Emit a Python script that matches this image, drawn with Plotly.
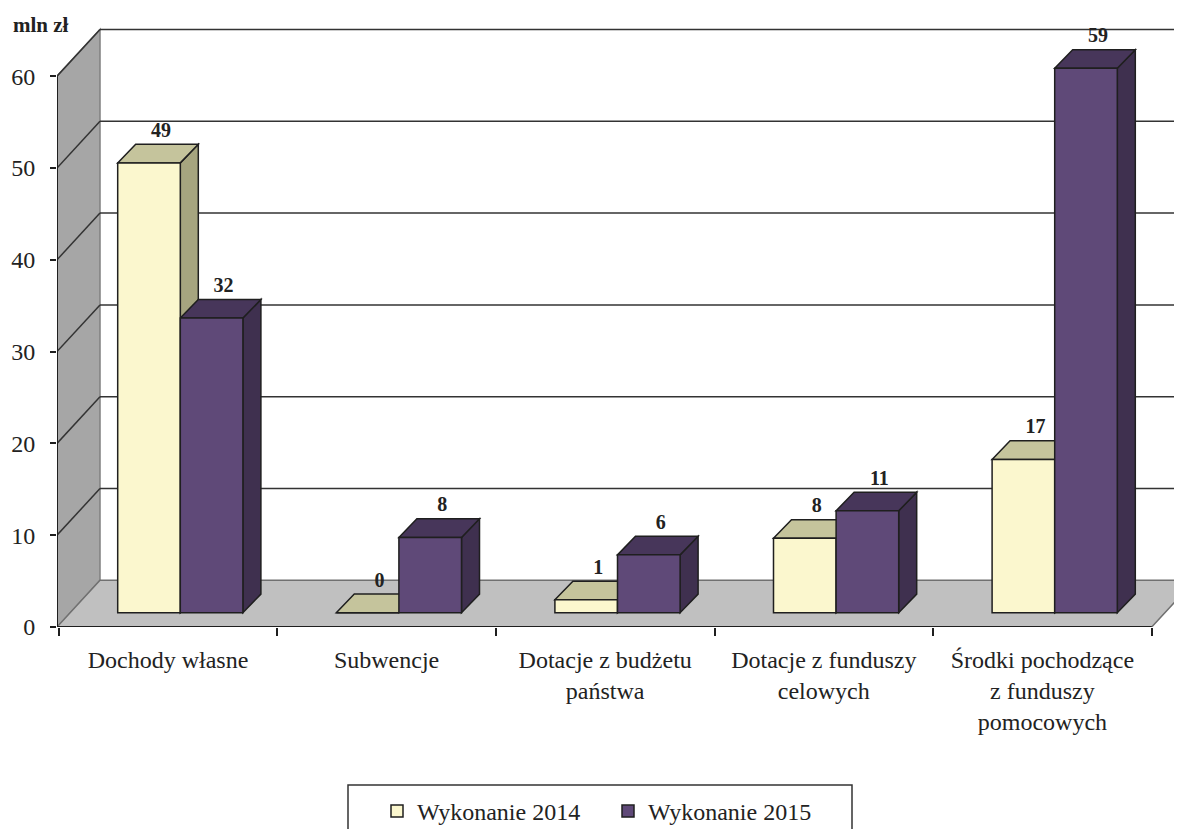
"""Pseudo-3D column chart of budget income, 2014 vs 2015."""

import plotly.graph_objects as go

categories = [
    "Dochody własne",
    "Subwencje",
    "Dotacje z budżetu<br>państwa",
    "Dotacje z funduszy<br>celowych",
    "Środki pochodzące<br>z funduszy<br>pomocowych",
]
series_names = ["Wykonanie 2014", "Wykonanie 2015"]
values_2014 = [49.0, 0.0, 1.4, 8.1, 16.7]
values_2015 = [32.1, 8.2, 6.3, 11.1, 59.3]
value_ticks = [0, 10, 20, 30, 40, 50, 60]

TEXT = "#222222"
LINE = "#1f1f1f"
SERIF = "Liberation Serif"
# front, top, side face colours per series
FACES = [("#FBF7CE", "#C5C49C", "#A6A57F"), ("#5F4978", "#47365A", "#3F304F")]

# the page body has an 8px margin, so the figure is that much smaller than the window
PAGE_MARGIN = 8
W, H = 1182 - PAGE_MARGIN, 829 - PAGE_MARGIN
PLOT_LEFT, PLOT_TOP, PLOT_BOTTOM, PLOT_RIGHT = 57, 20, 627, 1182
CAT_PX = 218.6
VAL_PX = 9.18
X_START = (PLOT_LEFT - 58.7) / CAT_PX
X_END = (PLOT_RIGHT - 58.7) / CAT_PX
Y_END = (PLOT_BOTTOM - PLOT_TOP) / VAL_PX

# depth of the chart box and of the columns, in axis units
WALL_DX, WALL_DY = 43 / CAT_PX, 46.7 / VAL_PX
BAR_DX, BAR_DY = 18 / CAT_PX, 18.6 / VAL_PX
BAR_BASE = 14.3 / VAL_PX
BAR_WIDTH = 62.6 / CAT_PX
BAR_START = 59 / CAT_PX
LABEL_DX = 12 / CAT_PX
LABEL_DY = 31 / VAL_PX


def paper_x(px):
    return (px - PLOT_LEFT) / (PLOT_RIGHT - PLOT_LEFT)


def paper_y(py):
    return (PLOT_BOTTOM - py) / (PLOT_BOTTOM - PLOT_TOP)


def poly(points, fill, line=LINE, width=1.5):
    path = "M" + " L".join(f"{x},{y}" for x, y in points) + " Z"
    return dict(type="path", path=path, xref="x", yref="y", layer="below",
                fillcolor=fill, line=dict(color=line, width=width))


def seg(x0, y0, x1, y1, color=LINE, width=1.5):
    return dict(type="line", x0=x0, y0=y0, x1=x1, y1=y1, xref="x", yref="y",
                layer="below", line=dict(color=color, width=width))


shapes = [
    # side wall and floor
    poly([(X_START, 0), (X_START, value_ticks[-1]), (X_START + WALL_DX, value_ticks[-1] + WALL_DY),
          (X_START + WALL_DX, WALL_DY)], "#A6A6A6", "#808080"),
    poly([(X_START, 0), (len(categories), 0), (len(categories) + WALL_DX, WALL_DY),
          (X_START + WALL_DX, WALL_DY)], "#C0C0C0", "#707070"),
]
for tick in value_ticks[1:]:
    shapes.append(seg(X_START, tick, X_START + WALL_DX, tick + WALL_DY, "#333333"))
    shapes.append(seg(X_START + WALL_DX, tick + WALL_DY, X_END, tick + WALL_DY, "#333333"))
shapes.append(seg(X_START, 0, X_START, value_ticks[-1], LINE, 2))
shapes.append(seg(X_START, 0, len(categories), 0, LINE, 2))

# column tops and sides go below the bar traces, so the front faces cover them
for s, values in enumerate([values_2014, values_2015]):
    _, top_color, side_color = FACES[s]
    for i, value in enumerate(values):
        x0 = i + BAR_START + s * BAR_WIDTH
        x1 = x0 + BAR_WIDTH
        y = BAR_BASE + value
        shapes.append(poly([(x1, BAR_BASE), (x1, y), (x1 + BAR_DX, y + BAR_DY), (x1 + BAR_DX, BAR_BASE + BAR_DY)],
                           side_color))
        shapes.append(poly([(x0, y), (x1, y), (x1 + BAR_DX, y + BAR_DY), (x0 + BAR_DX, y + BAR_DY)], top_color))

# legend frame runs off the bottom of the page
shapes.append(dict(type="rect", xref="paper", yref="paper", x0=paper_x(348), x1=paper_x(852),
                   y0=-0.5, y1=paper_y(785), line=dict(color="#333333", width=1.5)))

fig = go.Figure()
for s, values in enumerate([values_2014, values_2015]):
    fig.add_trace(go.Bar(
        name=series_names[s],
        x=[i + BAR_START + s * BAR_WIDTH for i in range(len(categories))],
        y=values,
        base=BAR_BASE,
        width=BAR_WIDTH,
        offset=0,
        marker=dict(color=FACES[s][0], line=dict(color=LINE, width=1.5)),
    ))
    fig.add_trace(go.Scatter(
        x=[i + BAR_START + (s + 0.5) * BAR_WIDTH + LABEL_DX for i in range(len(categories))],
        y=[BAR_BASE + v + LABEL_DY for v in values],
        text=[f"{v:.0f}" for v in values],
        mode="text",
        textposition="middle center",
        textfont=dict(family=SERIF, size=20, color=TEXT, weight="bold"),
        showlegend=False,
        hoverinfo="skip",
        cliponaxis=False,
    ))

fig.update_layout(
    width=W,
    height=H,
    margin=dict(l=PLOT_LEFT - PAGE_MARGIN, r=0, t=PLOT_TOP - PAGE_MARGIN, b=829 - PLOT_BOTTOM, pad=0, autoexpand=False),
    paper_bgcolor="white",
    plot_bgcolor="white",
    barmode="overlay",
    font=dict(family=SERIF, size=24, color=TEXT),
    shapes=shapes,
    showlegend=True,
    legend=dict(
        orientation="h",
        x=paper_x(377),
        xanchor="left",
        y=paper_y(789),
        yanchor="top",
        entrywidth=186,
        entrywidthmode="pixels",
        traceorder="normal",
        bgcolor="rgba(0,0,0,0)",
        font=dict(family=SERIF, size=24, color=TEXT),
    ),
    annotations=[dict(
        text="<b>mln zł</b>", xref="paper", yref="paper", showarrow=False,
        x=paper_x(41), y=paper_y(25), xanchor="center", yanchor="middle",
        font=dict(family=SERIF, size=21, color=TEXT),
    )],
)
fig.update_xaxes(
    range=[X_START, X_END],
    tickmode="array",
    tickvals=[i + 0.5 for i in range(len(categories))],
    ticktext=categories,
    ticks="",
    ticklabelstandoff=16,
    tickfont=dict(family=SERIF, size=24, color=TEXT),
    minor=dict(tickmode="array", tickvals=list(range(len(categories) + 1)), ticks="outside",
               ticklen=8, tickwidth=1.5, tickcolor=LINE),
    showgrid=False,
    zeroline=False,
    showline=False,
)
fig.update_yaxes(
    range=[0, Y_END],
    tickmode="array",
    tickvals=value_ticks,
    ticks="outside",
    ticklen=6,
    tickwidth=1.5,
    tickcolor=LINE,
    ticklabelstandoff=10,
    tickfont=dict(family=SERIF, size=24, color=TEXT),
    showgrid=False,
    zeroline=False,
    showline=False,
)

fig.write_html("out.html")
